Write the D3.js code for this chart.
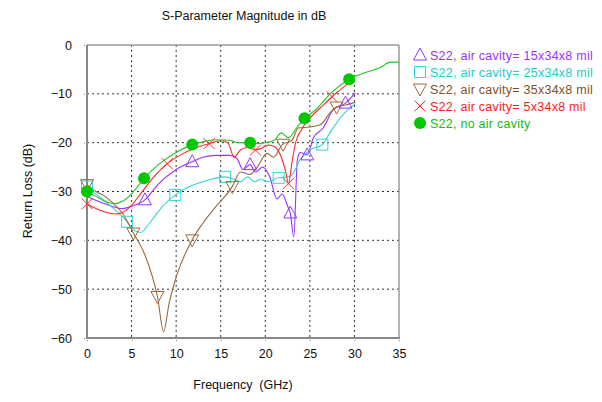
<!DOCTYPE html>
<html><head><meta charset="utf-8">
<script src="https://cdn.jsdelivr.net/npm/d3@7/dist/d3.min.js"></script>
<style>body{margin:0;background:#fff}svg{display:block}text{font-family:"Liberation Sans",Arial,sans-serif}</style>
</head><body><svg id="c" width="602" height="402"></svg>
<script>
const title = "S-Parameter Magnitude in dB";
const xLabel = "Frequency  (GHz)";
const yLabel = "Return Loss (dB)";
const xTicks = [0,5,10,15,20,25,30,35];
const yTicks = [0,-10,-20,-30,-40,-50,-60];

const names = ["S22, air cavity= 15x34x8 mil","S22, air cavity= 25x34x8 mil","S22, air cavity= 35x34x8 mil","S22, air cavity= 5x34x8 mil","S22, no air cavity"];

// series: frequency (GHz) and value (dB)
const purpleF = [0,2,4,5,6.5,8,10,11.8,13,14.5,16,16.8,17.5,18.3,18.9,19.7,20.5,21.3,21.9,22.5,22.8,23.2,23.6,23.9,24.7,25.4,26.5,27.6,29,30.1];
const purpleV = [-31,-32.5,-33.5,-33,-31.7,-28.5,-25.5,-23.9,-23,-22.6,-22.6,-23.2,-25.5,-24.5,-26,-25,-27,-31.5,-30.5,-33,-34.4,-39.3,-23.5,-22,-22.5,-19,-17,-13.3,-11.9,-9.8];
const cyanF = [0,1,2,3,4.5,5.2,6,7,8.5,9.9,11.5,13,15.5,16.5,17.2,18,18.8,19.5,20.2,21.5,22.5,23,23.9,25,26.4,27.3,28.7,30.1];
const cyanV = [-29,-30.5,-32,-33.5,-36.2,-37.8,-38.4,-36.5,-33,-30.7,-29,-28,-27,-27.5,-28,-27,-28,-27.5,-28,-27.2,-27,-26.6,-23.5,-21.5,-20.4,-17.8,-14.3,-12];
const brownF = [0,1,2,3,4,5.2,6.5,7.9,8.6,9.2,10.1,11.8,13,14.5,16.3,17.2,18.3,19.1,20.2,20.9,21.9,23,23.7,25,26.2,27.3,28,29,30.1];
const brownV = [-28.6,-30,-31,-32.5,-34.5,-38.5,-43,-51.5,-58.7,-53,-47,-39.9,-36.5,-33,-29,-26,-26.5,-25,-22.2,-23,-20.4,-19.5,-17,-16.8,-16.3,-13.8,-12.7,-12.3,-11.7];
const redF = [0,1,2,3.2,4,4.9,6,7.5,9,10.5,12,13.7,15,15.8,16.5,17.2,18,18.9,19.5,20.3,21,21.8,22.3,22.6,23,23.4,24,25,26.5,27.5,29.5];
const redV = [-32.5,-33.5,-34.2,-34.6,-34.3,-33,-30.5,-27,-24.3,-22.5,-21.2,-20.2,-19.6,-20,-23,-21.5,-21,-21.5,-21.2,-20.5,-20.8,-23,-26,-28.4,-24,-20,-17.5,-15,-12.3,-10.6,-7.6];
const greenF = [0,1,2,3,4,5,6.4,8,10,11.8,13,14.5,16,17,18.3,19,20,21,21.8,22.6,23.5,24.4,25.5,27.5,29.4,31.5,33,34,35];
const greenV = [-30,-31,-32,-32.5,-32,-30.5,-27.3,-24.5,-22,-20.4,-19.8,-19.4,-19.5,-20,-20,-20.2,-20,-19.5,-18,-19,-17,-15,-13.5,-9.6,-7,-5.5,-4.5,-3.5,-3.5];

// marker frequencies per series
const purpleM = [6.5,11.8,18.3,22.8,24.7,29];
const cyanM = [0,4.5,9.9,15.5,21.5,26.4];
const brownM = [0,5.2,7.9,11.8,16.3,22,28];
const redM = [0,9,13.7,18.9,22.6,27.5];
const greenM = [0,6.4,11.8,18.3,24.4,29.4];

const colors = ["#9933ff","#33d6d6","#9a6a3a","#ff2a2a","#22c322"];
const textColors = ["#9933ff","#22cccc","#7f5125","#ff1a1a","#11bb11"];
const symbols = ["tri","sq","dtri","x","dot"];

const series = [
  {F:purpleF,V:purpleV,M:purpleM},
  {F:cyanF,V:cyanV,M:cyanM},
  {F:brownF,V:brownV,M:brownM},
  {F:redF,V:redV,M:redM},
  {F:greenF,V:greenV,M:greenM}
];

const svg = d3.select("#c");
const L=87,R=399,T=45,B=338;
const x = d3.scaleLinear().domain([0,35]).range([L,R]);
const y = d3.scaleLinear().domain([-60,0]).range([B,T]);

// grid
const g = svg.append("g");
g.selectAll(".gx").data(xTicks.filter(d=>d>0&&d<35)).join("line")
 .attr("x1",d=>x(d)).attr("x2",d=>x(d)).attr("y1",T).attr("y2",B)
 .attr("stroke","#333").attr("stroke-width",1).attr("stroke-dasharray","2,3");
g.selectAll(".gy").data(yTicks.filter(d=>d<0&&d>-60)).join("line")
 .attr("y1",d=>y(d)).attr("y2",d=>y(d)).attr("x1",L).attr("x2",R)
 .attr("stroke","#333").attr("stroke-width",1).attr("stroke-dasharray","2,3");

// axes
const xAxis = d3.axisBottom(x).tickValues(xTicks).tickSize(4).tickPadding(7);
const yAxis = d3.axisLeft(y).tickValues(yTicks).tickSize(4).tickPadding(11);
const gx = svg.append("g").attr("transform",`translate(0,${B})`).call(xAxis);
const gy = svg.append("g").attr("transform",`translate(${L},0)`).call(yAxis);
[gx,gy].forEach(a=>{
  a.select(".domain").remove();
  a.selectAll(".tick line").attr("stroke","#888").attr("stroke-dasharray","1,1");
  a.selectAll(".tick text").attr("font-size",12.5).attr("fill","#111").attr("font-family","Liberation Sans, Arial, sans-serif");
});
// frame
svg.append("line").attr("x1",L).attr("x2",R).attr("y1",T).attr("y2",T).attr("stroke","#999").attr("stroke-width",1.5);
svg.append("line").attr("x1",R).attr("x2",R).attr("y1",T).attr("y2",B).attr("stroke","#999").attr("stroke-width",1.5);
svg.append("line").attr("x1",L).attr("x2",L).attr("y1",T).attr("y2",B+1).attr("stroke","#888").attr("stroke-width",2);
svg.append("line").attr("x1",L-1).attr("x2",R+1).attr("y1",B).attr("y2",B).attr("stroke","#888").attr("stroke-width",2);

// lines
const line = d3.line().x(d=>x(d[0])).y(d=>y(d[1])).curve(d3.curveMonotoneX);
const plot = svg.append("g");
series.forEach((s,i)=>{
  const pts = s.F.map((f,k)=>[f,s.V[k]]);
  plot.append("path").datum(pts).attr("d",line).attr("fill","none").attr("stroke",colors[i]).attr("stroke-width",1.1);
});

function interp(s,f){
  for(let k=0;k<s.F.length-1;k++){
    if(f>=s.F[k]&&f<=s.F[k+1]){const t=(f-s.F[k])/(s.F[k+1]-s.F[k]||1);return s.V[k]+t*(s.V[k+1]-s.V[k]);}
  }
  return s.V[s.V.length-1];
}
function drawSym(parent,type,cx,cy,col){
  if(type==="tri"){
    parent.append("path").attr("d",`M${cx},${cy-7}L${cx+6.5},${cy+5}L${cx-6.5},${cy+5}Z`).attr("fill","none").attr("stroke",col).attr("stroke-width",1);
  } else if(type==="dtri"){
    parent.append("path").attr("d",`M${cx},${cy+7}L${cx+6.5},${cy-5}L${cx-6.5},${cy-5}Z`).attr("fill","none").attr("stroke",col).attr("stroke-width",1);
  } else if(type==="sq"){
    parent.append("rect").attr("x",cx-5.5).attr("y",cy-5.5).attr("width",11).attr("height",11).attr("fill","none").attr("stroke",col).attr("stroke-width",1);
  } else if(type==="x"){
    parent.append("path").attr("d",`M${cx-5.5},${cy-5.5}L${cx+5.5},${cy+5.5}M${cx+5.5},${cy-5.5}L${cx-5.5},${cy+5.5}`).attr("stroke",col).attr("stroke-width",1);
  } else {
    parent.append("circle").attr("cx",cx).attr("cy",cy).attr("r",6).attr("fill","#00c800");
  }
}
series.forEach((s,i)=>{
  s.M.forEach(f=>drawSym(plot,symbols[i],x(f),y(interp(s,f)),colors[i]));
});

// legend
const lg = svg.append("g");
names.forEach((n,i)=>{
  const yy = 55+i*17;
  drawSym(lg,symbols[i],420,yy,colors[i]);
  lg.append("text").attr("x",430).attr("y",yy+4.5).attr("font-size",12.5).attr("letter-spacing",0.25).attr("fill",textColors[i]).text(n);
});

// titles
svg.append("text").attr("x",244).attr("y",20).attr("text-anchor","middle").attr("font-size",12.5).attr("fill","#111").text(title);
svg.append("text").attr("x",243).attr("y",389).attr("text-anchor","middle").attr("font-size",12.5).attr("fill","#111").style("white-space","pre").text(xLabel);
svg.append("text").attr("transform","translate(32,191) rotate(-90)").attr("text-anchor","middle").attr("font-size",12.5).attr("fill","#111").text(yLabel);
</script></body></html>
